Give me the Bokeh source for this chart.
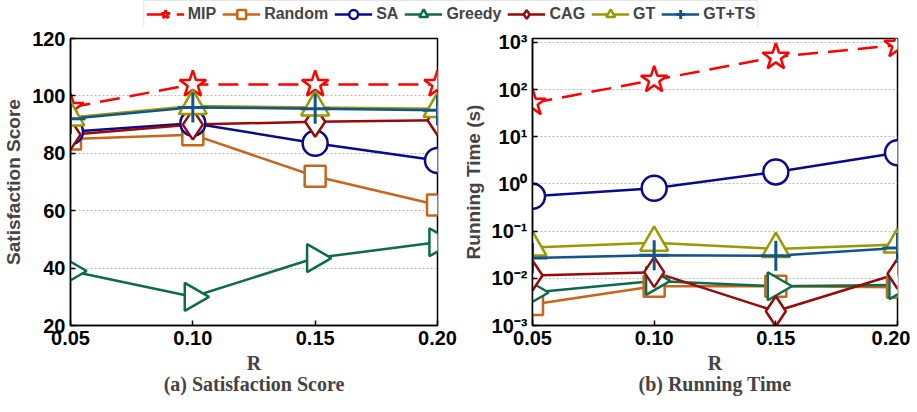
import math
from bokeh.plotting import figure
from bokeh.models import (Range1d, FixedTicker, CustomJSTickFormatter, Legend, LegendItem,
                          ColumnDataSource)
from bokeh.layouts import column, row
from bokeh.embed import file_html
from bokeh.resources import INLINE

# ---------------- data ----------------
r_values = [0.05, 0.10, 0.15, 0.20]
r_labels = ["0.05", "0.10", "0.15", "0.20"]
methods = ["MIP", "Random", "SA", "Greedy", "CAG", "GT", "GT+TS"]

score_mip = [96, 104, 104, 104]
score_random = [85, 86.5, 72, 62]
score_sa = [87.5, 90.5, 83.5, 77.5]
score_greedy = [39, 30, 43.5, 49]
score_cag = [86.5, 90, 91, 91.5]
score_gt = [92.5, 96.5, 96, 95.5]
score_gtts = [92, 96, 95.5, 95]

time_mip = [52, 160, 490, 880]
time_random = [0.0028, 0.0068, 0.0068, 0.0065]
time_sa = [0.55, 0.81, 1.8, 4.6]
time_greedy = [0.005, 0.0088, 0.0068, 0.0072]
time_cag = [0.0115, 0.0135, 0.002, 0.0125]
time_gt = [0.045, 0.057, 0.042, 0.052]
time_gtts = [0.027, 0.031, 0.030, 0.044]

score_ticks = [20, 40, 60, 80, 100, 120]
time_ticks = [1e-3, 1e-2, 1e-1, 1e0, 1e1, 1e2, 1e3]

scores = [score_mip, score_random, score_sa, score_greedy, score_cag, score_gt, score_gtts]
times = [time_mip, time_random, time_sa, time_greedy, time_cag, time_gt, time_gtts]

# ---------------- styles ----------------
styles = {
    "MIP":    dict(color="#FF0000", marker="star", size=28, dash="20 10", angle=0.0, mlw=2.5),
    "Random": dict(color="#C8651B", marker="square", size=21, dash="solid", angle=0.0, mlw=2.5),
    "SA":     dict(color="#0A0A8C", marker="circle", size=25, dash="solid", angle=0.0, mlw=2.5),
    "Greedy": dict(color="#0B6B4B", marker="triangle", size=28, dash="solid", angle=-math.pi / 2, mlw=2.5),
    "CAG":    dict(color="#960A0A", marker="diamond", size=30, dash="solid", angle=0.0, mlw=2.5),
    "GT":     dict(color="#999900", marker="triangle", size=28, dash="solid", angle=0.0, mlw=2.5),
    "GT+TS":  dict(color="#135489", marker="cross", size=30, dash="solid", angle=0.0, mlw=3.0),
}

TICK_FONT = "Liberation Sans"
SERIF = "Liberation Serif"


def style_axes(p, caption):
    for ax in p.axis:
        ax.major_label_text_font = TICK_FONT
        ax.major_label_text_font_style = "bold"
        ax.major_label_text_font_size = "20px"
        ax.major_label_text_color = "black"
        ax.axis_line_color = "black"
        ax.axis_line_width = 1.5
        ax.major_tick_in = 5
        ax.major_tick_out = 0
        ax.minor_tick_in = 0
        ax.minor_tick_out = 0
        ax.major_tick_line_width = 1.5
    p.xaxis[0].major_label_standoff = 5
    p.yaxis[0].major_label_standoff = 5
    p.xaxis[0].axis_label = "R\n" + caption
    p.xaxis[0].axis_label_text_font = SERIF
    p.xaxis[0].axis_label_text_font_style = "bold"
    p.xaxis[0].axis_label_text_font_size = "20px"
    p.xaxis[0].axis_label_text_line_height = 0.97
    p.xaxis[0].axis_label_standoff = 4
    p.yaxis[0].axis_label_text_font = TICK_FONT
    p.yaxis[0].axis_label_text_font_style = "bold"
    p.yaxis[0].axis_label_text_font_size = "19px"
    p.yaxis[0].axis_label_standoff = 5
    p.xgrid.visible = False
    p.ygrid.grid_line_color = "#BBBBBB"
    p.ygrid.grid_line_dash = "2 2"
    p.ygrid.grid_line_width = 1
    p.outline_line_color = "black"
    p.outline_line_width = 1.5


def draw_series(p, data_lists):
    for name, ys in zip(methods, data_lists):
        st = styles[name]
        src = ColumnDataSource(dict(x=r_values, y=ys))
        p.line("x", "y", source=src, line_color=st["color"], line_width=2.5, line_dash=st["dash"])
    for name, ys in zip(methods, data_lists):
        st = styles[name]
        src = ColumnDataSource(dict(x=r_values, y=ys))
        p.scatter("x", "y", source=src, marker=st["marker"], size=st["size"], angle=st["angle"],
                  line_color=st["color"], line_width=st["mlw"], fill_color="white")


FH = 287
# ---------------- left: satisfaction score ----------------
p1 = figure(frame_width=367, frame_height=FH, output_backend="svg", toolbar_location=None,
            x_range=Range1d(0.05, 0.20), y_range=Range1d(20, 120),
            min_border_left=61, min_border_right=22, min_border_top=11, min_border_bottom=0)
draw_series(p1, scores)
p1.xaxis.ticker = FixedTicker(ticks=r_values)
p1.xaxis.major_label_overrides = {v: l for v, l in zip(r_values, r_labels)}
p1.yaxis.ticker = FixedTicker(ticks=score_ticks)
p1.yaxis[0].axis_label = "Satisfaction Score"
style_axes(p1, "(a) Satisfaction Score")

# ---------------- right: running time ----------------
p2 = figure(frame_width=365, frame_height=FH, output_backend="svg", toolbar_location=None,
            y_axis_type="log",
            x_range=Range1d(0.05, 0.20), y_range=Range1d(1e-3, 1210),
            min_border_left=73, min_border_right=13, min_border_top=11, min_border_bottom=0)
draw_series(p2, times)
p2.xaxis.ticker = FixedTicker(ticks=r_values)
p2.xaxis.major_label_overrides = {v: l for v, l in zip(r_values, r_labels)}
p2.yaxis.ticker = FixedTicker(ticks=time_ticks)
p2.yaxis[0].formatter = CustomJSTickFormatter(code="""
const sup = {'0':'\u2070','1':'\u00b9','2':'\u00b2','3':'\u00b3','-':'\u207b'};
const e = Math.round(Math.log10(tick));
return '10' + String(e).split('').map(c => sup[c]).join('');
""")
p2.yaxis[0].axis_label = "Running Time (s)"
style_axes(p2, "(b) Running Time")

# ---------------- legend strip ----------------
pl = figure(width=901, height=27, output_backend="svg", toolbar_location=None,
            x_range=Range1d(0, 1), y_range=Range1d(0, 1), min_border=0)
pl.axis.visible = False
pl.grid.visible = False
pl.outline_line_color = None
items = []
for name in methods:
    st = styles[name]
    lr = pl.line(x=[-10, -9], y=[-10, -10], line_color=st["color"], line_width=2.5, line_dash=st["dash"])
    sr = pl.scatter(x=[-10], y=[-10], marker=st["marker"], size=st["size"] * 0.7, angle=st["angle"],
                    line_color=st["color"], line_width=st["mlw"], fill_color="white")
    items.append(LegendItem(label=name, renderers=[lr, sr]))
legend = Legend(items=items, orientation="horizontal", location="center",
                label_text_font=TICK_FONT, label_text_font_style="bold", label_text_font_size="16px",
                glyph_width=38, glyph_height=22, label_standoff=4, spacing=6, padding=2, margin=0,
                border_line_color="#CCCCCC", border_line_width=1, background_fill_color="white")
pl.add_layout(legend, "center")

layout = column(pl, row(p1, p2))
open("out.html", "w").write(file_html(layout, INLINE))
